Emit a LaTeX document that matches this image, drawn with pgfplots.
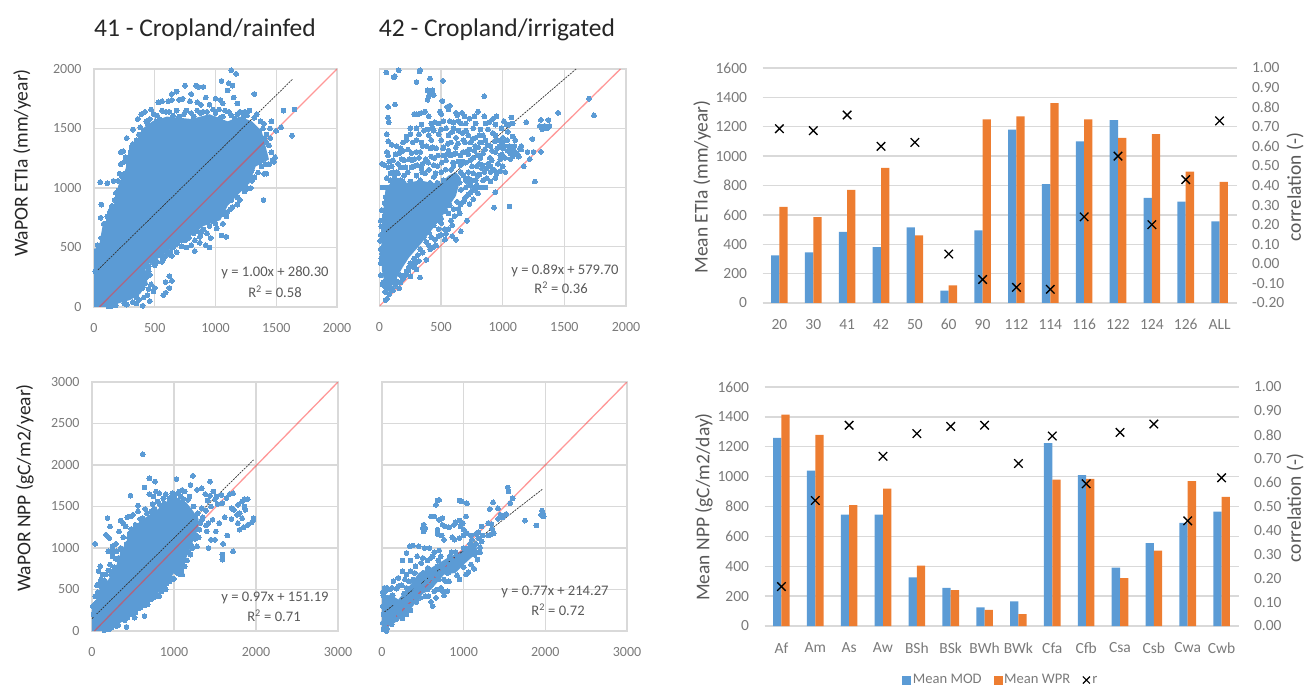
\documentclass[border=0pt]{standalone}
\usepackage{pgfplots}
\pgfplotsset{compat=1.18}
\usepackage{fontspec}
\setmainfont{Carlito}
\definecolor{cblue}{HTML}{5B9BD5}
\definecolor{corange}{HTML}{ED7D31}
\definecolor{cgrid}{HTML}{D9D9D9}
\definecolor{ctick}{HTML}{7A7A7A}
\definecolor{clab}{HTML}{595959}
\pgfplotsset{
  scat/.style={
    scale only axis, axis line style={cgrid,line width=1.3pt},
    grid=major, grid style={cgrid,line width=1.3pt},
    major tick length=0pt, clip=true,
    tick label style={font=\fontsize{14}{15}\selectfont, text=ctick},
    /pgf/number format/assume math mode=true,
    /pgf/number format/1000 sep={},
    xticklabel shift={12.5pt}, yticklabel shift={9pt},
  },
  pts/.style={only marks, color=cblue, mark=*, mark size=2.4pt, mark options={fill=cblue, draw=cblue, line width=0pt}},
  blob/.style={fill=cblue, draw=none, forget plot},
  oneone/.style={no marks, color={rgb,255:red,255;green,50;blue,50}, opacity=.5, line width=1.3pt},
  fit/.style={no marks, color=black!80, dash pattern=on 2pt off 1pt, line width=.7pt},
  barsL/.style={
    scale only axis, ybar=0pt, bar width=8.3pt,
    xmin=-0.5, xmax=13.5, ymin=0, ymax=1600, ytick={0,200,...,1600}, xtick={0,...,13},
    axis x line*=bottom, axis y line*=left,
    x axis line style={-,cgrid,line width=1.3pt}, y axis line style={draw=none},
    ymajorgrids, grid style={cgrid,line width=1.3pt},
    major tick length=0pt,
    tick label style={font=\fontsize{15.5}{16}\selectfont, text=ctick},
    /pgf/number format/assume math mode=true,
    /pgf/number format/1000 sep={},
    xticklabel shift={13pt}, yticklabel shift={12pt},
  },
  barsR/.style={
    scale only axis, xmin=-0.5, xmax=13.5, axis x line=none, axis y line*=right,
    y axis line style={draw=none}, major tick length=0pt,
    tick label style={font=\fontsize{15.5}{16}\selectfont, text=ctick},
    yticklabel shift={12pt},
  },
  rmark/.style={only marks, mark=x, mark size=6pt, mark options={black, line width=1.3pt}},
}
\newcommand{\eqn}[1]{\fontsize{14.6}{15}\selectfont\color{clab}#1}
\begin{document}
\begin{tikzpicture}[x=1pt,y=1pt]
\path[use as bounding box] (0,0) rectangle (1306,686);

% ---------- panel 1
\begin{axis}[scat, at={(94pt,379pt)}, anchor=south west, width=243pt, height=238pt,
  xmin=0,xmax=2000,ymin=0,ymax=2000, xtick={0,500,...,2000}, ytick={0,500,...,2000}]
\addplot[blob] coordinates {(0,0)(0,490)(40,500)(70,680)(130,760)(170,880)(200,1020)(260,1160)(280,1280)(340,1380)(400,1500)(480,1560)(600,1600)(800,1580)(950,1620)(1100,1560)(1200,1600)(1300,1560)(1380,1480)(1420,1320)(1440,1240)(1330,1180)(1280,1040)(1200,960)(1100,850)(1040,730)(900,680)(800,600)(700,540)(620,480)(560,430)(470,370)(420,350)(440,200)(380,110)(300,60)(200,30)(100,0)} -- cycle;
\addplot[pts] coordinates {
(1130,1990)(1170,1960)(1110,1880)(1140,1860)(1050,1900)(1100,1820)(1150,1760)(1180,1710)(1320,1790)(750,1860)(840,1860)(860,1850)(900,1850)(680,1810)(640,1790)(800,1790)(920,1760)(1000,1750)(1040,1740)(530,1720)(560,1730)(610,1730)(640,1740)(700,1740)(730,1750)(790,1730)(850,1720)(880,1700)(950,1700)(1060,1710)(980,1660)(1080,1650)(1110,1640)(1200,1640)(1240,1640)(1280,1650)(1260,1610)(1340,1620)(1370,1560)(1400,1540)(1460,1560)(1450,1500)(1500,1480)(1540,1510)(1560,1650)(1650,1660)(1630,1440)(1395,900)(1400,1120)(1420,1120)(1440,1200)(1480,1240)(1490,1260)(1480,1220)(1440,1360)(1420,1380)(1380,1300)(1380,1180)(1300,1060)(1260,1000)(1230,990)(1170,1000)(1130,900)(1120,820)(1070,780)(1020,760)(1000,700)(950,680)(900,650)(880,620)(960,580)(950,500)(920,520)(1090,590)(1050,600)(870,540)(830,560)(830,470)(800,520)(760,500)(720,510)(680,460)(650,500)(640,430)(600,470)(590,430)(560,380)(480,380)(620,260)(640,220)(590,210)(620,160)(590,120)(570,100)(500,160)(470,190)(490,130)(440,100)(460,50)(400,10)(350,30)(420,200)(460,270)(450,300)(420,340)
(50,1050)(110,1040)(160,1060)(200,1060)(220,1010)(60,860)(55,750)(100,700)(90,640)(40,500)(30,460)(20,400)(10,300)(130,800)(150,850)(170,900)(180,960)(210,1120)(220,1200)(220,1300)(240,1310)(250,1220)(270,1420)(320,1490)(350,1280)(310,1340)(350,1400)(360,1580)(390,1620)(420,1640)(430,1560)(470,1660)(520,1610)(510,1560)(560,1650)(620,1640)(680,1650)(740,1620)(800,1630)(850,1650)(900,1640)(1000,1630)(1040,1590)(1160,1580)(1300,1500)(1350,1420)(1400,1420)(1340,1240)(1300,1150)(1240,1060)(1180,920)(1100,800)(980,720)(850,640)(750,560)(560,420)(520,380)(400,160)(350,80)(250,30)(150,10)
(30,520)(60,580)(80,700)(110,760)(120,720)(140,820)(160,780)(190,920)(200,980)(230,1100)(250,1120)(260,1260)(280,1210)(300,1300)(320,1370)(340,1330)(370,1450)(380,1510)(410,1480)(440,1540)(460,1580)(490,1620)(540,1580)(590,1640)(650,1610)(700,1600)(760,1650)(820,1600)(880,1630)(930,1640)(1030,1660)(1060,1600)(1130,1610)(1180,1620)(1230,1600)(1320,1590)(1390,1500)(1420,1450)(1450,1420)(1460,1300)(1470,1230)(1410,1200)(1360,1220)(1350,1130)(1320,1090)(1290,1000)(1240,970)(1200,900)(1180,860)(1140,840)(1090,760)(1060,700)(1010,660)(930,620)(870,590)(820,620)(780,580)(720,560)(680,530)(630,460)(570,400)(500,350)(450,340)(430,250)(450,150)(410,80)(370,60)(320,40)(270,20)(180,15)(120,5)
};
\addplot[oneone] coordinates {(44,0)(2000,2000)};
\addplot[fit] coordinates {(15,295)(1633,1913)};
\end{axis}

% ---------- panel 2
\begin{axis}[scat, at={(379.5pt,380pt)}, anchor=south west, width=246.5pt, height=237pt,
  xmin=0,xmax=2000,ymin=0,ymax=2000, xtick={0,500,...,2000}, ytick={0,500,...,2000}, yticklabels={}]
\addplot[blob] coordinates {(60,100)(20,300)(12,620)(30,800)(50,1000)(120,1060)(230,1040)(330,1060)(420,1040)(500,1040)(560,1100)(620,1130)(660,1080)(620,930)(530,790)(430,650)(340,530)(240,410)(190,330)(120,200)} -- cycle;
\addplot[pts] coordinates {
(55,1970)(155,1990)(125,1940)(115,1930)(330,1990)(325,1980)(410,1920)(300,1890)(515,1900)(390,1820)(410,1800)(430,1820)(400,1770)(440,1780)(390,1740)(70,1680)(125,1700)(510,1730)(850,1770)(560,1660)(570,1690)(550,1680)(70,1590)(75,1550)(300,1620)(320,1620)(340,1630)(280,1620)(370,1640)(400,1600)(490,1640)(500,1620)(620,1630)(670,1630)(800,1640)(770,1600)(690,1600)(950,1600)(920,1580)(1070,1590)(1050,1530)(1080,1540)(1030,1530)(1190,1550)(1450,1630)(1700,1750)(1740,1610)(1300,1520)(1320,1490)(1340,1520)(1310,1570)(1370,1570)(1380,1520)(1360,1500)(1240,1410)(1150,1320)(1200,1300)(1250,1300)(1310,1300)(1220,1240)(1170,1180)(1260,1050)(940,960)(930,830)(1055,840)(710,720)(660,630)(530,560)(480,590)(460,510)(440,500)(410,480)(380,390)(300,310)(330,240)(250,250)(220,290)(170,200)(50,50)(60,60)
(60,1450)(70,1390)(60,1300)(70,1270)(20,1200)(40,1190)(70,1170)(100,1180)(110,1130)(90,1120)(130,1060)(140,1130)(150,1200)(180,1240)(200,1230)(240,1240)(140,1350)(220,1430)(220,1400)(270,1380)(300,1300)(320,1450)(340,1380)(360,1480)(380,1350)(400,1440)(420,1400)(440,1480)(460,1330)(480,1450)(500,1400)(520,1270)(540,1500)(560,1440)(580,1380)(600,1500)(620,1420)(640,1480)(660,1540)(680,1400)(700,1480)(720,1440)(740,1380)(760,1500)(780,1420)(800,1340)(820,1490)(840,1440)(860,1400)(880,1490)(900,1350)(920,1460)(940,1300)(960,1400)(980,1270)(1000,1330)(1020,1250)(1040,1310)(1060,1290)(1080,1260)(1100,1300)(1000,1420)(1040,1470)(860,1540)(780,1540)(700,1540)(640,1560)(600,1550)(500,1490)(450,1550)(300,1500)(250,1500)(150,1120)
(200,1100)(300,1100)(260,1170)(350,1200)(320,1250)(400,1150)(420,1260)(470,1180)(500,1130)(540,1230)(580,1150)(600,1280)(640,1220)(680,1300)(700,1210)(720,1130)(760,1250)(790,1180)(820,1250)(850,1130)(870,1080)(910,1230)(930,1150)(960,1200)(820,1000)(780,1060)(740,960)(700,1000)(680,880)(730,860)(650,780)(600,820)(580,720)(560,650)(500,700)(480,650)(420,580)(380,540)(330,480)(280,400)(250,360)(130,170)(100,300)(70,280)(50,160)(30,200)(15,400)(10,360)(30,500)(10,600)(15,670)(60,820)(40,760)(100,1000)(60,1000)(80,900)(50,920)(190,1050)(250,1050)(330,1060)(790,1020)(880,1200)(760,1120)
(280,1180)(370,1120)(440,1090)(230,1130)(170,1060)(330,1300)(430,1340)(520,1340)(560,1310)(620,1340)(730,1320)(770,1310)(840,1290)(600,1180)(660,1130)(640,1060)(720,1040)(810,1110)(900,1130)
(110,1230)(160,1290)(190,1310)(230,1320)(260,1290)(285,1240)(305,1190)(345,1130)(375,1240)(395,1210)(415,1330)(445,1250)(455,1120)(475,1270)(505,1210)(515,1330)(535,1150)(555,1370)(575,1270)(595,1210)(615,1290)(635,1370)(655,1270)(675,1220)(695,1380)(715,1310)(735,1230)(755,1410)(775,1350)(795,1270)(815,1380)(835,1190)(855,1320)(875,1360)(895,1250)(915,1310)(935,1390)(955,1330)(975,1350)(995,1280)(1015,1350)(1035,1400)(1055,1350)(1075,1330)(1095,1350)(1115,1290)(1000,1180)(980,1140)(940,1080)(900,1050)(860,1000)(840,1060)(800,950)(760,900)(720,1080)(680,1100)(760,1000)(700,920)(660,980)(630,880)(610,1000)(590,930)(570,850)(540,800)(520,920)(480,780)(460,720)(440,680)(400,620)(360,580)(310,430)(270,330)(235,300)(190,230)(160,150)(110,130)(80,100)(45,120)(25,180)(10,260)(10,480)(5,550)(20,440)(35,620)(10,720)(20,810)(40,870)(25,1000)(60,1080)(90,1060)(170,1330)(130,1280)(100,1360)(190,1380)(250,1450)(340,1530)(390,1490)(420,1540)(520,1560)(570,1560)(630,1610)(730,1580)(850,1600)(890,1550)(990,1500)(1010,1560)(940,1530)(830,1380)
(620,560)(590,590)(540,610)(500,600)(450,560)(400,510)(350,450)(320,380)(290,360)(240,330)(210,260)(170,260)(140,210)(120,200)(90,150)(60,220)(110,1040)(210,1010)(280,1010)(360,1030)(410,1040)(470,1040)(520,1060)(600,1080)(650,1040)(700,1060)(750,1060)(800,1100)(830,1160)(870,1160)(900,1180)(950,1120)(1020,1130)(780,980)(740,1020)(690,900)(660,860)(720,940)(640,820)(610,760)(590,680)(530,650)(500,740)(560,780)(260,1230)(340,1160)(440,1190)(550,1280)(660,1190)(720,1280)(750,1180)(810,1200)(980,1240)(1060,1240)(1130,1260)(1150,1350)(1100,1400)(1080,1430)(1140,1330)(170,1170)(120,1100)(80,1220)(210,1170)(300,1400)(350,1350)(430,1500)(480,1540)(590,1470)(670,1460)(810,1440)(940,1440)(1000,1380)
};
\addplot[oneone] coordinates {(0,0)(1955,2000)};
\addplot[fit] coordinates {(11,590)(1595,2000)};
\end{axis}

% ---------- panel 3
\begin{axis}[scat, at={(92pt,55pt)}, anchor=south west, width=246pt, height=249pt,
  xmin=0,xmax=3000,ymin=0,ymax=3000, xtick={0,1000,2000,3000}, ytick={0,500,...,3000}]
\addplot[blob] coordinates {(0,0)(0,250)(60,400)(100,530)(200,620)(300,800)(350,950)(430,1100)(500,1250)(600,1330)(700,1400)(850,1500)(950,1600)(1050,1600)(1150,1550)(1230,1450)(1300,1350)(1300,1250)(1200,1000)(1150,880)(1100,720)(1000,700)(900,560)(800,450)(700,350)(600,300)(500,220)(350,100)(200,30)(100,0)} -- cycle;
\addplot[pts] coordinates {
(620,2130)(700,1840)(770,1800)(1030,1830)(1230,1870)(1440,1800)(1200,1760)(1060,1680)(640,1730)(700,1650)(750,1620)(470,1630)(780,1680)(820,1660)(870,1600)(560,1510)(190,1360)(220,1260)(170,1160)(210,1120)(40,1050)(250,1020)(200,960)(240,960)(290,1050)(330,1200)(350,1330)(380,1300)(430,1370)(470,1380)(410,1260)(500,1400)(560,1440)(650,1470)(740,1530)(800,1560)(900,1650)(980,1660)(1100,1700)(1130,1680)(1190,1620)(1280,1700)(1340,1720)(1380,1650)(1440,1630)(1480,1680)(1520,1620)(1580,1640)(1680,1650)(1720,1660)(1640,1600)(1590,1540)(1500,1590)(1410,1570)(1340,1480)(1390,1450)(1450,1500)(1530,1530)(1700,1480)(1730,1460)(1780,1520)(1860,1590)(1900,1590)(1830,1560)(1860,1500)(1800,1420)(1830,1360)(1870,1460)(1770,1400)(1780,1300)(1850,1250)(1900,1280)(1950,1310)(1970,1360)(1970,1340)(1800,1220)(1700,1350)(1620,1370)(1550,1300)(1470,1340)(1420,1300)(1400,1200)(1390,1270)(1350,1370)(1510,1200)(1500,1100)(1450,1100)(1420,1000)(1600,1050)(1590,920)(1590,860)(1720,960)(1650,1150)(1300,1130)(1280,1020)(1230,1000)(1100,800)(1060,690)(1100,680)(1000,630)(950,600)(900,500)(850,480)(820,420)(760,410)(640,350)(640,180)(530,220)(420,50)(520,160)(60,550)(100,580)(80,720)(100,780)(130,680)(110,620)(200,730)(170,680)(220,800)(250,900)(290,870)(350,1000)(380,1130)(300,960)(260,720)
(30,280)(20,200)(50,340)(140,560)(320,880)(460,1180)(620,1360)(720,1440)(1000,1620)(1120,1590)(1260,1380)(1320,1300)(1260,1160)(1180,950)(1130,780)(880,520)(680,320)(560,270)(430,160)(300,60)(200,20)
(10,300)(40,420)(70,470)(110,540)(150,610)(230,680)(270,770)(330,850)(370,960)(420,1050)(450,1130)(480,1230)(530,1280)(590,1350)(670,1420)(760,1470)(830,1520)(880,1540)(940,1600)(1010,1640)(1080,1620)(1170,1580)(1240,1500)(1290,1420)(1340,1340)(1310,1220)(1260,1110)(1220,1020)(1200,920)(1160,850)(1130,850)(1090,720)(1040,700)(970,640)(910,570)(860,520)(780,450)(720,380)(650,310)(590,280)(480,200)(400,130)(320,70)(240,40)(150,10)
};
\addplot[oneone] coordinates {(30,0)(3000,3000)};
\addplot[fit] coordinates {(0,149)(1970,2062)};
\end{axis}

% ---------- panel 4
\begin{axis}[scat, at={(382pt,55pt)}, anchor=south west, width=245pt, height=249pt,
  xmin=0,xmax=3000,ymin=0,ymax=3000, xtick={0,1000,2000,3000}, ytick={0,500,...,3000}, yticklabels={}]
\addplot[blob] coordinates {(0,20)(0,400)(100,440)(200,380)(350,560)(450,700)(600,760)(800,880)(1000,980)(1150,1040)(1170,950)(1000,800)(900,700)(760,680)(600,500)(500,450)(300,200)(100,60)} -- cycle;
\addplot[pts] coordinates {
(1540,1730)(1550,1680)(1600,1600)(1570,1540)(1960,1450)(1970,1420)(1950,1400)(1980,1380)(1750,1330)(1890,1270)(1360,1550)(1320,1470)(1420,1480)(1450,1400)(1480,1370)(1420,1350)(1520,1410)(1340,1290)(1300,1300)(1350,1230)(1370,1180)(1330,1160)(1300,1150)(1220,1260)(1180,1190)(1150,1170)(1230,1150)(680,1570)(700,1580)(660,1520)(950,1570)(980,1560)(1040,1540)(1030,1380)(640,1380)(600,1380)(700,1340)(740,1360)(740,1280)(900,1310)(950,1330)(990,1300)(880,1280)(960,1260)(1000,1220)(1040,1180)(1090,1150)(1100,1100)(770,1260)(820,1250)(860,1130)(510,1280)(500,1240)(510,1200)(530,1240)(680,1220)(730,1150)(680,1170)(760,1100)(890,1100)(950,1120)(1000,1150)(1080,1050)(1200,950)(1170,860)(1130,920)(1090,800)(1130,750)(1030,680)(1060,710)(1000,770)(920,670)(950,620)(800,480)(760,430)(820,600)(810,700)(860,850)(720,900)(640,950)(700,970)(580,1000)(520,1000)(450,1020)(380,1030)(340,1020)(300,940)(250,850)(350,850)(430,900)(500,880)(600,880)(750,760)(700,620)(680,500)(660,400)(620,300)(600,350)(530,420)(440,420)(250,150)(220,200)(170,140)(120,80)(50,0)(20,20)(90,500)(180,510)(140,600)(200,640)(250,720)(300,680)(400,700)(500,700)(560,760)(640,600)(600,550)(560,500)(720,520)(780,600)(850,800)(900,950)(950,900)(1000,1000)(1100,950)(1150,1050)(1180,1120)(620,700)(680,780)(680,680)(550,600)(450,550)(400,420)(350,380)(300,300)(830,900)(770,820)
(10,100)(20,200)(10,300)(30,350)(15,430)(50,300)(60,400)(90,350)(40,480)(130,430)(150,350)(170,280)(220,350)(270,450)(240,550)(300,520)(330,600)(380,620)(420,500)(470,620)(500,500)(520,650)(550,720)(600,650)(640,720)(690,850)(730,700)(760,620)(800,700)(850,950)(880,750)(920,900)(980,850)(1030,950)(1060,1000)(1090,1050)(1120,1000)(1160,950)(1200,1010)(1220,1080)(1000,900)(830,800)(620,900)(560,850)(480,820)(410,780)(350,720)(280,620)(200,540)(120,520)(60,520)(30,520)(10,470)(300,200)(350,250)(420,350)(470,400)(570,420)(640,480)(740,480)(210,250)(130,130)(90,100)(60,30)(30,40)
};
\addplot[oneone] coordinates {(0,0)(3000,3000)};
\addplot[fit] coordinates {(0,206)(1969,1712)};
\end{axis}

% ---------- panel 5
\begin{axis}[barsL, at={(762.5pt,383pt)}, anchor=south west, width=474pt, height=235pt,
  xticklabels={20,30,41,42,50,60,90,112,114,116,122,124,126,ALL}]
\addplot[fill=cblue, draw=none] coordinates {(0,325)(1,345)(2,485)(3,380)(4,515)(5,85)(6,495)(7,1180)(8,810)(9,1100)(10,1245)(11,715)(12,690)(13,555)};
\addplot[fill=corange, draw=none] coordinates {(0,655)(1,585)(2,770)(3,920)(4,460)(5,120)(6,1250)(7,1270)(8,1360)(9,1250)(10,1125)(11,1150)(12,895)(13,825)};
\end{axis}
\begin{axis}[barsR, at={(762.5pt,383pt)}, anchor=south west, width=474pt, height=235pt,
  ymin=-0.2, ymax=1, ytick={-0.2,-0.1,0,0.1,0.2,0.3,0.4,0.5,0.6,0.7,0.8,0.9,1},
  yticklabels={-0.20,-0.10,0.00,0.10,0.20,0.30,0.40,0.50,0.60,0.70,0.80,0.90,1.00}]
\addplot[rmark] coordinates {(0,0.69)(1,0.68)(2,0.76)(3,0.60)(4,0.62)(5,0.05)(6,-0.08)(7,-0.12)(8,-0.13)(9,0.24)(10,0.55)(11,0.20)(12,0.43)(13,0.73)};
\end{axis}

% ---------- panel 6
\begin{axis}[barsL, at={(764.5pt,60pt)}, anchor=south west, width=474pt, height=239pt,
  xticklabels={Af,Am,As,Aw,BSh,BSk,BWh,BWk,Cfa,Cfb,Csa,Csb,Cwa,Cwb}]
\addplot[fill=cblue, draw=none] coordinates {(0,1260)(1,1040)(2,745)(3,745)(4,325)(5,255)(6,125)(7,165)(8,1225)(9,1010)(10,390)(11,555)(12,690)(13,765)};
\addplot[fill=corange, draw=none] coordinates {(0,1415)(1,1280)(2,810)(3,920)(4,405)(5,240)(6,108)(7,80)(8,980)(9,985)(10,320)(11,505)(12,970)(13,865)};
\end{axis}
\begin{axis}[barsR, at={(764.5pt,60pt)}, anchor=south west, width=474pt, height=239pt,
  ymin=0, ymax=1, ytick={0,0.1,0.2,0.3,0.4,0.5,0.6,0.7,0.8,0.9,1},
  yticklabels={0.00,0.10,0.20,0.30,0.40,0.50,0.60,0.70,0.80,0.90,1.00},
  legend columns=3,
  legend style={draw=none, fill=none, at={(0.499,-0.226)}, anchor=center,
    nodes={text height=10pt, text depth=3pt},
    font=\fontsize{14.6}{15}\selectfont\color{ctick}, /tikz/every even column/.append style={column sep=10pt}}]
\addlegendimage{legend image code/.code={\fill[cblue] (0pt,-4pt) rectangle (8pt,4pt);}}
\addlegendentry{Mean MOD}
\addlegendimage{legend image code/.code={\fill[corange] (0pt,-4pt) rectangle (8pt,4pt);}}
\addlegendentry{Mean WPR}
\addlegendimage{legend image code/.code={\draw[black,line width=1.2pt] (1pt,-3.5pt) -- (8pt,3.5pt) (1pt,3.5pt) -- (8pt,-3.5pt);}}
\addlegendentry{r}
\addplot[rmark, forget plot] coordinates {(0,0.165)(1,0.525)(2,0.84)(3,0.71)(4,0.805)(5,0.835)(6,0.84)(7,0.68)(8,0.795)(9,0.595)(10,0.81)(11,0.845)(12,0.44)(13,0.62)};
\end{axis}

% ---------- text
\node[font=\fontsize{25.5}{27}\selectfont, text=black!85] at (205,656) {41 - Cropland/rainfed};
\node[font=\fontsize{25.5}{27}\selectfont, text=black!85] at (497,656) {42 - Cropland/irrigated};
\node[rotate=90, font=\fontsize{19.6}{21}\selectfont, text=black!85] at (22,523) {WaPOR ETIa (mm/year)};
\node[rotate=90, font=\fontsize{19.5}{21}\selectfont, text=black!85] at (25,198) {WaPOR NPP (gC/m2/year)};
\node[rotate=90, font=\fontsize{19.5}{21}\selectfont, text=clab] at (702,499) {Mean ETIa (mm/year)};
\node[rotate=90, inner sep=0pt, font=\fontsize{19.5}{21}\selectfont, text=clab] at (1295,499) {correlation (-)};
\node[rotate=90, font=\fontsize{19.5}{21}\selectfont, text=clab] at (704,179) {Mean NPP (gC/m2/day)};
\node[rotate=90, inner sep=0pt, font=\fontsize{19.5}{21}\selectfont, text=clab] at (1295,178) {correlation (-)};
\node at (275,413) {\eqn{y = 1.00x + 280.30}};
\node at (275,394) {\eqn{R\textsuperscript{2} = 0.58}};
\node at (565,415) {\eqn{y = 0.89x + 579.70}};
\node at (561,398) {\eqn{R\textsuperscript{2} = 0.36}};
\node at (275,88) {\eqn{y = 0.97x + 151.19}};
\node at (274,70) {\eqn{R\textsuperscript{2} = 0.71}};
\node at (555,94) {\eqn{y = 0.77x + 214.27}};
\node at (558,76) {\eqn{R\textsuperscript{2} = 0.72}};
\end{tikzpicture}
\end{document}
